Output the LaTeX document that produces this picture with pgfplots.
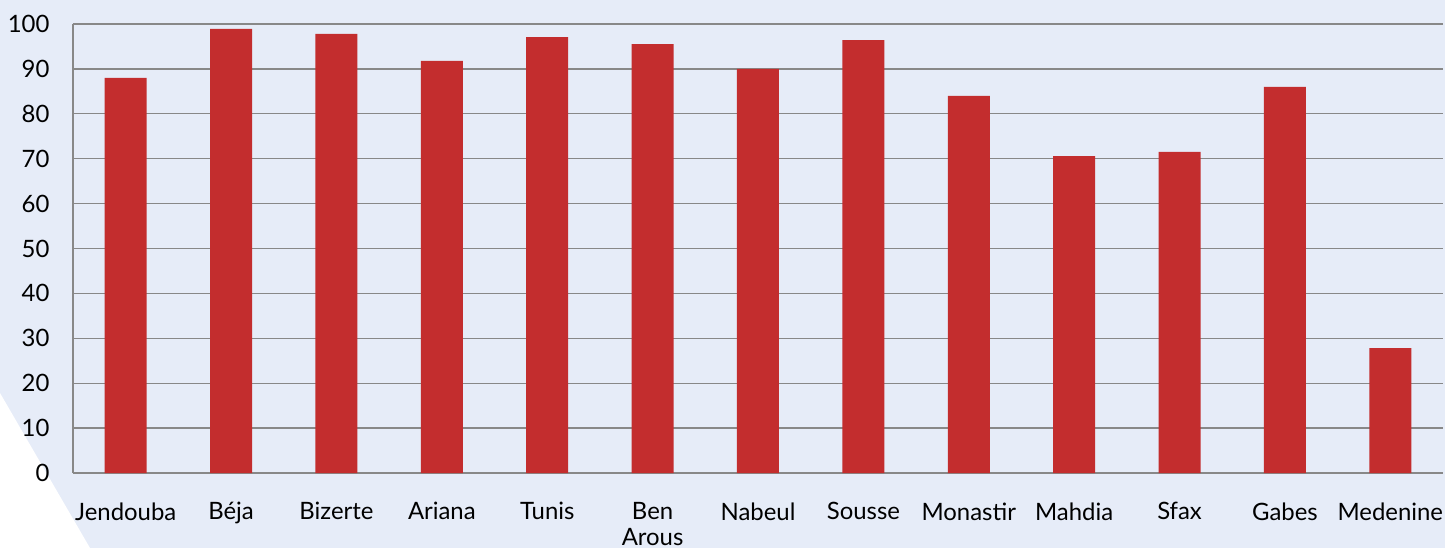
\documentclass[border=0pt]{standalone}
\usepackage{pgfplots}
\pgfplotsset{compat=1.18}
\usepackage{fontspec}
\setmainfont{Lato}
\definecolor{bgblue}{HTML}{E6ECF8}
\definecolor{barred}{HTML}{C32D2E}
\definecolor{gridgray}{HTML}{888888}
\begin{document}
\begin{tikzpicture}
\useasboundingbox (-73bp,-75bp) rectangle (1372bp,473bp);
\fill[bgblue] (-73bp,-75bp) rectangle (1372bp,473bp);
\fill[white] (-73bp,-75bp) -- (-73bp,80bp) -- (17bp,-75bp) -- cycle;
\begin{axis}[
  at={(0,0)}, anchor=south west,
  scale only axis, width=1370bp, height=449bp,
  xmin=-0.5, xmax=12.5, ymin=0, ymax=100,
  ytick={0,10,...,100},
  xtick={0,...,12},
  xticklabels={Jendouba,Béja,Bizerte,Ariana,Tunis,{Ben\\Arous},Nabeul,Sousse,Monastir,Mahdia,Sfax,Gabes,Medenine},
  xticklabel style={align=center, yshift=-26bp, font=\fontsize{24}{26}\selectfont},
  yticklabel style={xshift=-20bp, font=\fontsize{24}{26}\selectfont},
  /pgf/number format/assume math mode=true,
  major tick length=0pt,
  ymajorgrids, grid style={gridgray, line width=1.3bp},
  axis x line*=bottom, axis y line*=left,
  x axis line style={gridgray, line width=1.8bp, -},
  y axis line style={gridgray, line width=1.3bp, -},
  ybar, bar width=42bp,
]
\addplot[fill=barred, draw=none] coordinates {
(0,88.0) (1,98.9) (2,97.8) (3,91.8) (4,97.1) (5,95.5) (6,90.0) (7,96.4) (8,84.0) (9,70.6) (10,71.5) (11,86.0) (12,27.8)};
\end{axis}
\end{tikzpicture}
\end{document}
